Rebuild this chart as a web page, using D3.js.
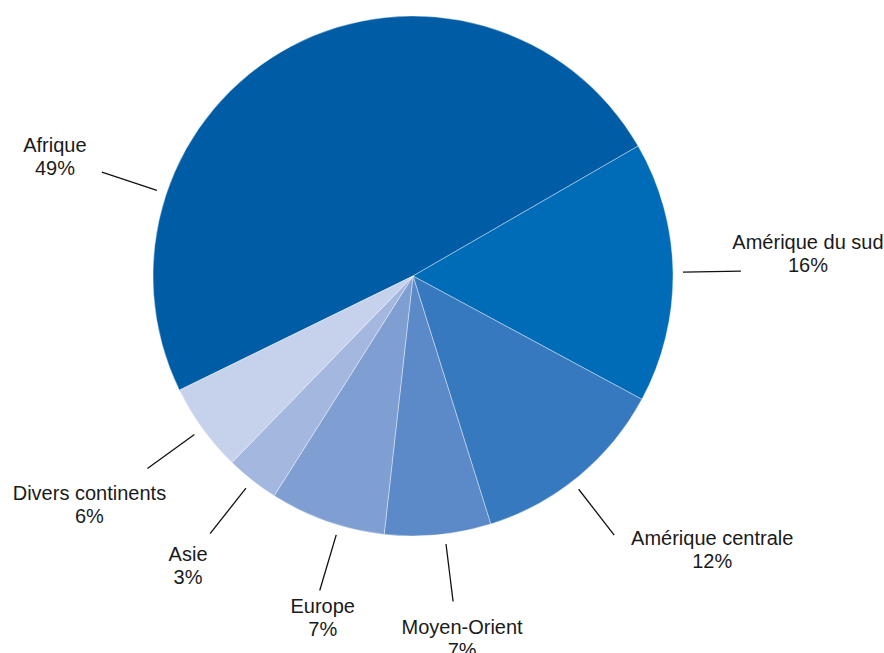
<!DOCTYPE html>
<html>
<head>
<meta charset="utf-8">
<script src="https://cdn.jsdelivr.net/npm/d3@7"></script>
<style>
  body { margin: 0; background: #fff; }
  .label { font-family: "Liberation Sans", Arial, sans-serif; font-size: 20px; fill: #1a1a1a; }
</style>
</head>
<body>
<div id="pie"></div>
<script>
// data
var regions = ["Afrique", "Amérique du sud", "Amérique centrale", "Moyen-Orient", "Europe", "Asie", "Divers continents"];
var shares = [48.9, 16.2, 12.3, 6.6, 7.2, 3.3, 5.5];
var pctLabels = ["49%", "16%", "12%", "7%", "7%", "3%", "6%"];

var colors = ["#005ca5", "#006bb6", "#3779bf", "#5c89c7", "#7f9fd3", "#a3b7df", "#c6d2ec"];

// leader line angle tweaks (degrees) and label offsets from the line end
var angleShift = { "Afrique": -43.5, "Amérique centrale": 1.7, "Moyen-Orient": -1.5, "Europe": -2.8 };
var labelOffset = {
  "Afrique": [-47, -20],
  "Amérique du sud": [67, -22],
  "Amérique centrale": [98, 10],
  "Moyen-Orient": [9, 32],
  "Europe": [3, 23],
  "Asie": [-22, 27],
  "Divers continents": [-58, 31]
};

var svgWidth = 884;
var svgHeight = 653;
var cx = 413, cy = 276;
var radius = 260;

var svg = d3.select("#pie")
  .append("svg")
  .attr("width", svgWidth)
  .attr("height", svgHeight);

var chartGroup = svg.append("g")
  .attr("transform", `translate(${cx}, ${cy})`);

var rows = regions.map(function(r, i) {
  return { region: r, value: shares[i], pct: pctLabels[i], color: colors[i] };
});

// Amérique du sud starts at about 2 o'clock
var startDeg = 60 - 360 * shares[0] / d3.sum(shares);

var pie = d3.pie()
  .sort(null)
  .value(d => d.value)
  .startAngle(startDeg * Math.PI / 180)
  .endAngle((startDeg + 360) * Math.PI / 180);

var arc = d3.arc()
  .innerRadius(0)
  .outerRadius(radius);

var arcs = pie(rows);

// slices
chartGroup.selectAll("path.slice")
  .data(arcs)
  .enter()
  .append("path")
  .attr("class", "slice")
  .attr("d", arc)
  .attr("fill", d => d.data.color)
  .attr("stroke", "rgba(255,255,255,0.55)")
  .attr("stroke-width", 0.7);

// leader lines
function leaderAngle(d) {
  var mid = (d.startAngle + d.endAngle) / 2;
  var shift = angleShift[d.data.region] || 0;
  return mid + shift * Math.PI / 180;
}

function polar(a, r) {
  return [Math.sin(a) * r, -Math.cos(a) * r];
}

var lineIn = 270, lineOut = 328;

chartGroup.selectAll("line.leader")
  .data(arcs)
  .enter()
  .append("line")
  .attr("class", "leader")
  .attr("x1", d => polar(leaderAngle(d), lineIn)[0])
  .attr("y1", d => polar(leaderAngle(d), lineIn)[1])
  .attr("x2", d => polar(leaderAngle(d), lineOut)[0])
  .attr("y2", d => polar(leaderAngle(d), lineOut)[1])
  .attr("stroke", "#111")
  .attr("stroke-width", 1.3);

// labels
var labels = chartGroup.selectAll("text.label")
  .data(arcs)
  .enter()
  .append("text")
  .attr("class", "label")
  .attr("text-anchor", "middle")
  .attr("transform", function(d) {
    var p = polar(leaderAngle(d), lineOut);
    var off = labelOffset[d.data.region];
    return `translate(${p[0] + off[0]}, ${p[1] + off[1]})`;
  });

labels.append("tspan")
  .attr("x", 0)
  .attr("y", 0)
  .text(d => d.data.region);

labels.append("tspan")
  .attr("x", 0)
  .attr("y", 23)
  .text(d => d.data.pct);
</script>
</body>
</html>
